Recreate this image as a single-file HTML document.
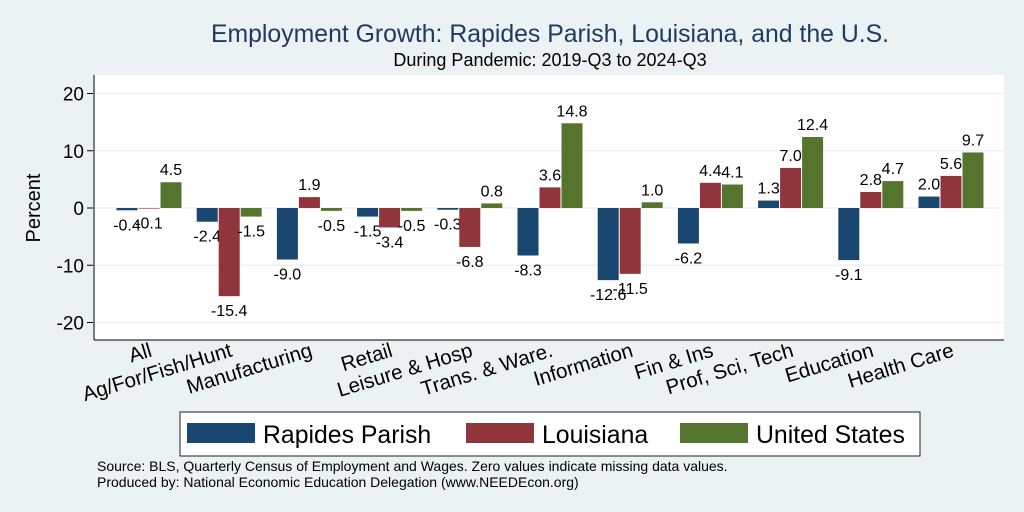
<!DOCTYPE html>
<html><head><meta charset="utf-8"><style>
html,body{margin:0;padding:0;overflow:hidden;background:#eaf2f3;font-family:"Liberation Sans",Arial,sans-serif}
svg{display:block}
</style></head><body>
<svg id="c" width="1024" height="512" xmlns="http://www.w3.org/2000/svg" font-family="Liberation Sans, Arial, sans-serif">
<rect width="1024" height="512" fill="#eaf2f3"/>
<rect x="94" y="75" width="910" height="265" fill="#ffffff"/>
<text x="550" y="42" text-anchor="middle" font-size="24.8" fill="#1e3a5f">Employment Growth: Rapides Parish, Louisiana, and the U.S.</text>
<text x="550" y="66" text-anchor="middle" font-size="18" fill="#000">During Pandemic: 2019-Q3 to 2024-Q3</text>
<text transform="translate(40,208) rotate(-90)" text-anchor="middle" font-size="20">Percent</text>
<g id="plot"></g>
<rect x="180" y="412" width="740" height="44" fill="#fff" stroke="#222" stroke-width="1"/>
<g><rect x="187" y="423" width="68" height="20" fill="#1a476f"/><text x="263" y="443" font-size="24.8">Rapides Parish</text></g>
<g><rect x="466" y="423" width="68" height="20" fill="#90353b"/><text x="542" y="443" font-size="24.8">Louisiana</text></g>
<g><rect x="680" y="423" width="68" height="20" fill="#55752f"/><text x="756" y="443" font-size="24.8">United States</text></g>
<text x="97" y="471" font-size="14">Source: BLS, Quarterly Census of Employment and Wages. Zero values indicate missing data values.</text>
<text x="97" y="487" font-size="14">Produced by: National Economic Education Delegation (www.NEEDEcon.org)</text>
</svg>
<script>
const categories=["All","Ag/For/Fish/Hunt","Manufacturing","Retail","Leisure & Hosp","Trans. & Ware.","Information","Fin & Ins","Prof, Sci, Tech","Education","Health Care"];
const rapides=[-0.4,-2.4,-9.0,-1.5,-0.3,-8.3,-12.6,-6.2,1.3,-9.1,2.0];
const louisiana=[-0.1,-15.4,1.9,-3.4,-6.8,3.6,-11.5,4.4,7.0,2.8,5.6];
const unitedStates=[4.5,-1.5,-0.5,-0.5,0.8,14.8,1.0,4.1,12.4,4.7,9.7];
const yTicks=[-20,-10,0,10,20];
const NS="http://www.w3.org/2000/svg";
const g=document.getElementById("plot");
const y=v=>208-v*5.725;
const xc=i=>149+i*80.2;
const bw=22;
function mk(t,a){const e=document.createElementNS(NS,t);for(const k in a)e.setAttribute(k,a[k]);g.appendChild(e);return e;}
yTicks.forEach(t=>{
  const l=mk("line",{x1:94,x2:1003,y1:y(t),y2:y(t),stroke:"#eaf2f3","stroke-width":1.5});
  
  
  const tk=mk("line",{x1:87,x2:93,y1:y(t),y2:y(t),stroke:"#000"});
  
  
  const tx=mk("text",{x:84,y:y(t)+7,"text-anchor":"end","font-size":19});
  tx.textContent=t;
  
  
});
const ax=mk("line",{x1:94,x2:94,y1:75,y2:340,stroke:"#000"});


const xa=mk("line",{x1:94,x2:1004,y1:340,y2:340,stroke:"#000"});


const series=[[rapides,"#1a476f",-1],[louisiana,"#90353b",0],[unitedStates,"#55752f",1]];
categories.forEach((c,i)=>{
  series.forEach(([arr,col,o])=>{
    const v=arr[i],cx=xc(i)+o*bw;
    const r=mk("rect",{x:cx-bw/2+0.5,y:Math.min(y(v),y(0)),width:bw-1,height:Math.abs(y(v)-y(0)),fill:col});
    
    
    const t=mk("text",{x:cx,y:v>=0?y(v)-7:y(v)+20,"text-anchor":"middle","font-size":16});
    t.textContent=v.toFixed(1);
    
    
  });
  const lb=mk("text",{transform:`translate(${xc(i)+4},${356}) rotate(-17)`,"text-anchor":"end","font-size":20.5});
  lb.textContent=c;
  
  
});
</script>
</body></html>
